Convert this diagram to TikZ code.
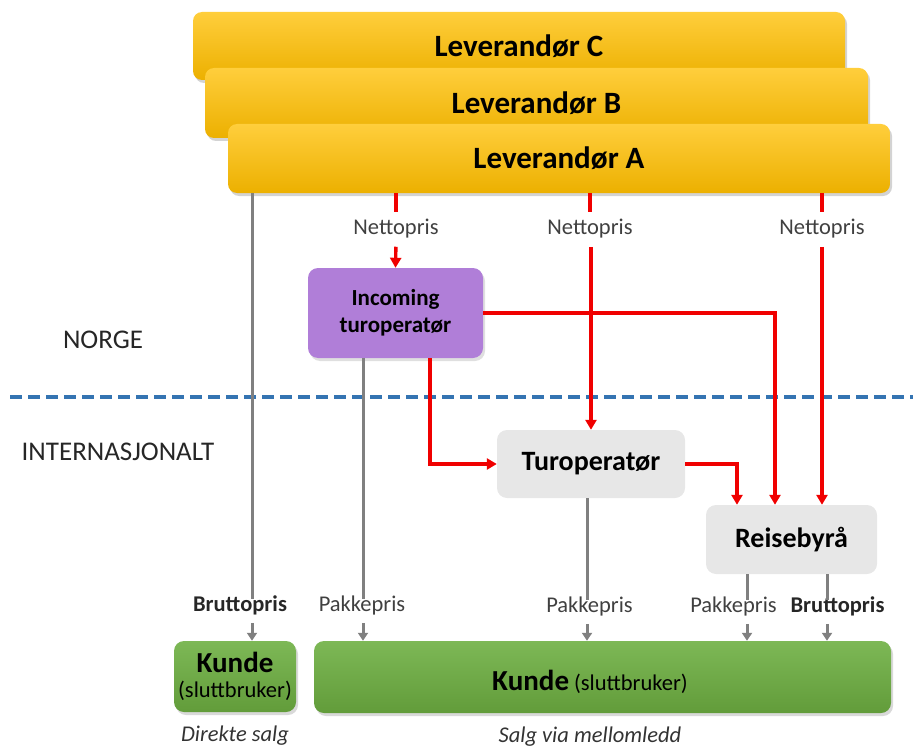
\documentclass[tikz,border=0pt]{standalone}
\usepackage{fontspec}
\setmainfont{Carlito}
\usetikzlibrary{shadows,arrows.meta,calc}
\definecolor{levtop}{RGB}{255,206,60}
\definecolor{levbot}{RGB}{236,176,0}
\definecolor{incfill}{RGB}{176,126,216}
\definecolor{boxgray}{RGB}{231,231,231}
\definecolor{grntop}{RGB}{125,184,86}
\definecolor{grnbot}{RGB}{98,156,58}
\definecolor{redline}{RGB}{240,0,0}
\definecolor{grayline}{RGB}{128,128,128}
\definecolor{labgray}{RGB}{64,64,64}
\definecolor{bluedash}{RGB}{52,116,178}
\tikzset{
  levbox/.style={rounded corners=9pt, top color=levtop, bottom color=levbot, draw=none,
    font=\fontsize{31}{34}\selectfont\bfseries,
    drop shadow={shadow xshift=2pt, shadow yshift=-3pt, opacity=0.35}},
  incbox/.style={rounded corners=10pt, fill=incfill, draw=none, align=center,
    font=\fontsize{23}{30}\selectfont\bfseries,
    drop shadow={shadow xshift=2pt, shadow yshift=-3pt, opacity=0.25}},
  graybox/.style={rounded corners=10pt, fill=boxgray, draw=none,
    font=\fontsize{28}{32}\selectfont\bfseries},
  grnbox/.style={rounded corners=10pt, top color=grntop, bottom color=grnbot, draw=none,
    drop shadow={shadow xshift=2pt, shadow yshift=-3pt, opacity=0.3}},
  lab/.style={text=labgray, font=\fontsize{22.5}{26}\selectfont, inner sep=2pt},
  blab/.style={text=black!85, font=\fontsize{22.5}{26}\selectfont\bfseries, inner sep=2pt},
  region/.style={text=black!85, font=\fontsize{27}{30}\selectfont},
  ital/.style={text=black!80, font=\fontsize{22.5}{26}\selectfont\itshape},
  redln/.style={draw=redline, line width=3.4pt},
  redarr/.style={draw=redline, line width=3.4pt, -{Triangle[length=10pt,width=11pt]}},
  grayln/.style={draw=grayline, line width=3pt},
  grayarr/.style={draw=grayline, line width=3pt, -{Triangle[length=8pt,width=10pt]}},
}
\begin{document}
\begin{tikzpicture}[x=1pt,y=-1pt]
\useasboundingbox (0,0) rectangle (913,749);

% suppliers
\node[levbox, minimum width=652pt, minimum height=68pt] (levC) at (519,46) {Leverandør C};
\node[levbox, minimum width=663pt, minimum height=70pt] (levB) at (536.5,103) {Leverandør B};
\node[levbox, minimum width=662pt, minimum height=69pt] (levA) at (559,158.5) {Leverandør A};

% region split
\coordinate (dl1) at (10,397);
\coordinate (dl2) at (913,397);
\draw[bluedash, line width=3.2pt, dash pattern=on 12pt off 6pt] (dl1) -- (dl2);
\node[region] (norge) at (103,340) {NORGE};
\node[region] (intl) at (118,452) {INTERNASJONALT};

% net price labels
\node[lab] (n1) at (396,229) {Nettopris};
\node[lab] (n2) at (590,229) {Nettopris};
\node[lab] (n3) at (822,229) {Nettopris};

% intermediaries
\node[incbox, minimum width=175pt, minimum height=90pt] (inc) at (395.5,313) {\raisebox{-3pt}{Incoming}\\turoperatør};
\node[graybox, minimum width=188pt, minimum height=68pt] (tur) at (591,464) {Turoperatør};
\node[graybox, minimum width=171pt, minimum height=69pt] (reis) at (791.5,539.5) {Reisebyrå};

% customers
\node[grnbox, minimum width=122pt, minimum height=71pt, align=center,
  font=\fontsize{22.5}{25}\selectfont] (kunde1) at (235,676.5)
  {{\fontsize{29}{25}\selectfont\bfseries Kunde}\\(sluttbruker)};
\node[grnbox, minimum width=577pt, minimum height=72pt] (kunde2) at (602.5,677) {};
\node (kunde2txt) at (590,682) {{\fontsize{29}{30}\selectfont\bfseries Kunde}\hspace{5pt}{\fontsize{22.5}{26}\selectfont(sluttbruker)}};

\node[ital] (direkte) at (235,736) {Direkte salg};
\node[ital] (mellom) at (590,737) {Salg via mellomledd};

% bottom price labels
\node[blab] (bru1) at (240,605) {Bruttopris};
\node[lab] (pak1) at (362,605) {Pakkepris};
\node[lab] (pak2) at (589.5,606) {Pakkepris};
\node[lab] (pak3) at (733.5,606) {Pakkepris};
\node[blab] (bru2) at (837.5,606) {Bruttopris};

% helper x-positions
\coordinate (g1) at (252,0);
\coordinate (g2) at (363,0);
\coordinate (g3) at (587,0);
\coordinate (g4) at (747,0);
\coordinate (g5) at (827,0);
\coordinate (r1) at (775,0);
\coordinate (r2) at (430,0);
\coordinate (r3) at (737,0);

% red flows
\draw[redln, shorten >=5pt] (levA.south -| n1) -- (n1.north);
\draw[redln, shorten >=5pt] (levA.south -| n2) -- (n2.north);
\draw[redln, shorten >=5pt] (levA.south -| n3) -- (n3.north);
\draw[redarr, shorten <=6pt] (n1.south) -- (inc.north);
\draw[redarr, shorten <=6pt] (n2.south -| tur) -- (tur.north);
\draw[redarr, shorten <=6pt] (n3.south) -- (reis.north -| n3);
\draw[redarr] (inc.east) -| (r1 |- reis.north);
\draw[redarr] (inc.south -| r2) |- (tur.west);
\draw[redarr] (tur.east) -| (r3 |- reis.north);

% gray flows
\draw[grayln] (levA.south -| g1) -- ([yshift=-6pt]bru1.north -| g1);
\draw[grayarr, shorten <=6pt] (bru1.south -| g1) -- (kunde1.north -| g1);
\draw[grayln] (inc.south -| g2) -- ([yshift=-6pt]pak1.north -| g2);
\draw[grayarr, shorten <=6pt] (pak1.south -| g2) -- (kunde2.north -| g2);
\draw[grayln] (tur.south -| g3) -- ([yshift=-6pt]pak2.north -| g3);
\draw[grayarr, shorten <=6pt] (pak2.south -| g3) -- (kunde2.north -| g3);
\draw[grayln] (reis.south -| g4) -- ([yshift=-6pt]pak3.north -| g4);
\draw[grayarr, shorten <=6pt] (pak3.south -| g4) -- (kunde2.north -| g4);
\draw[grayln] (reis.south -| g5) -- ([yshift=-6pt]bru2.north -| g5);
\draw[grayarr, shorten <=6pt] (bru2.south -| g5) -- (kunde2.north -| g5);
\end{tikzpicture}
\end{document}
